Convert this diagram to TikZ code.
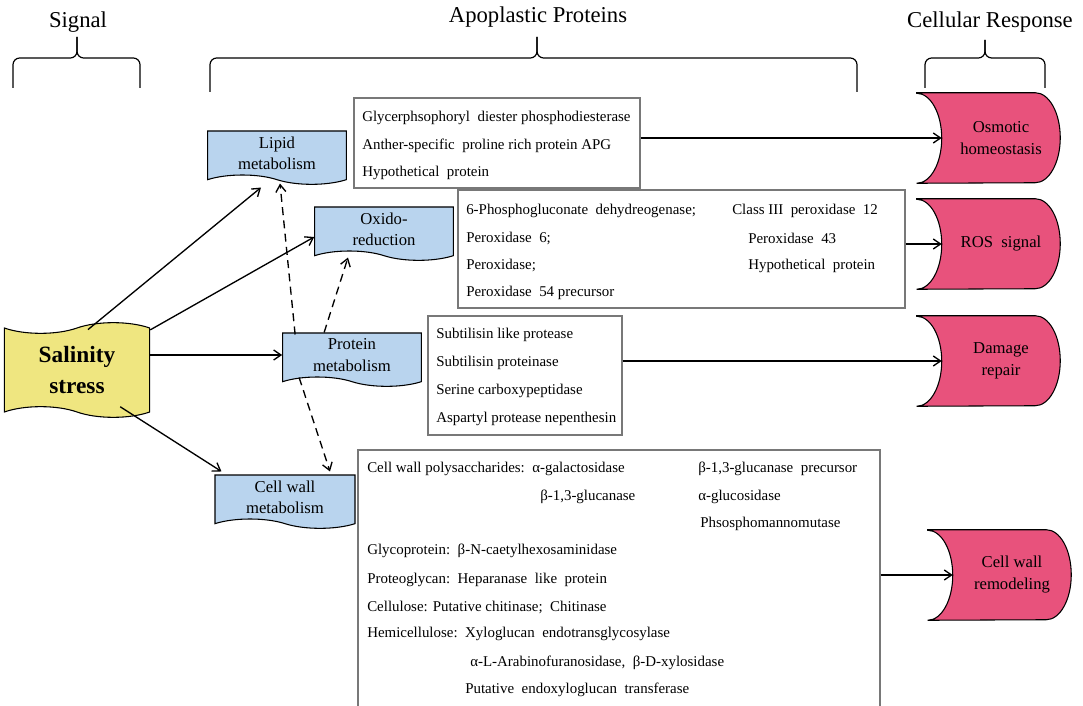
\documentclass[tikz,border=0pt]{standalone}
\usepackage{fontspec}
\setmainfont{Liberation Serif}
\usepackage{tikz}
\usetikzlibrary{arrows.meta,positioning,calc,shapes.symbols,backgrounds}
\definecolor{salyellow}{RGB}{239,230,128}
\definecolor{topicblue}{RGB}{185,212,238}
\definecolor{resppink}{RGB}{232,82,124}
\definecolor{boxgray}{RGB}{120,120,120}
\tikzset{
  flow/.style={-{Straight Barb[length=5.5pt,width=7.5pt]}, line width=1pt},
  linkdash/.style={flow, dash pattern=on 6pt off 4pt},
  bracket/.style={line width=0.9pt, rounded corners=5pt},
  heading/.style={font=\fontsize{17}{19}\selectfont},
  topic/.style={tape, draw, line width=0.8pt, fill=topicblue, tape bend top=none,
    tape bend bottom=out and in, tape bend height=7pt, minimum width=104pt,
    minimum height=40pt, align=center, inner sep=1pt, font=\fontsize{12.5}{16}\selectfont},
  resp/.style={minimum width=88.5pt, minimum height=67.5pt, align=center,
    inner sep=0pt, font=\fontsize{12.5}{16.5}\selectfont},
  respshape/.style={draw, line width=0.8pt, fill=resppink},
  listbox/.style={draw=boxgray, line width=0.8pt, fill=white, inner sep=0pt},
  item/.style={anchor=west, inner sep=0pt, font=\fontsize{11.2}{13}\selectfont},
}
\begin{document}
\begin{tikzpicture}[x=0.75pt,y=-0.75pt]
  \useasboundingbox (0,0) rectangle (1083,706);
  \clip (0,0) rectangle (1083,706);

  % headings and braces
  \node[heading] (hsig) at (78,22) {Signal};
  \node[heading] (hapo) at (538,17) {Apoplastic Proteins};
  \node[heading] (hcel) at (990,22) {Cellular Response};
  \foreach \l/\m/\r/\t/\b in {13/77/140/37/88, 210/537/857/37/92, 925/985/1045/40/88}{
    \draw[bracket] (\l,\b) |- (\m,58) -- (\m,\t);
    \draw[bracket] (\r,\b) |- (\m,58) -- (\m,\t);
  }

  % signal
  \node[tape, draw, line width=0.8pt, fill=salyellow, tape bend top=in and out,
    tape bend bottom=out and in, tape bend height=8pt, minimum width=109pt,
    minimum height=71pt, align=center, font=\bfseries\fontsize{17.5}{23}\selectfont]
    (sal) at (77,370) {Salinity\\stress};

  % metabolism groups
  \node[topic] (lipid) at (277,153) {Lipid\\metabolism};
  \node[topic] (oxido) at (384,229) {Oxido-\\reduction};
  \node[topic] (prot) at (352,355) {Protein\\metabolism};
  \node[topic, minimum width=105pt] (cw) at (285,497) {Cell wall\\metabolism};

  % protein lists
  \node[listbox, minimum width=214.5pt, minimum height=67.5pt] (lipbox) at (497,143) {};
  \foreach \t [count=\i from 0] in {Glycerphsophoryl\ \ diester phosphodiesterase,
      Anther-specific\ \ proline rich protein APG, Hypothetical\ \ protein}
    \node[item] (lipitem\i) at (362,118+27.5*\i) {\t};

  \node[listbox, minimum width=335.25pt, minimum height=88.5pt] (oxbox) at (681.5,249) {};
  \foreach \t [count=\i from 0] in {6-Phosphogluconate\ \ dehydreogenase;, Peroxidase\ \ 6;,
      Peroxidase;, Peroxidase\ \ 54 precursor}
    \node[item] (oxitem\i) at (466,211+27.3*\i) {\t};
  \node[item] (oxitem4) at (732,211) {Class III\ \ peroxidase\ \ 12};
  \node[item] (oxitem5) at (748,238) {Peroxidase\ \ 43};
  \node[item] (oxitem6) at (748,266) {Hypothetical\ \ protein};

  \node[listbox, minimum width=145.5pt, minimum height=89.25pt] (protbox) at (525,375.5) {};
  \foreach \t [count=\i from 0] in {Subtilisin like protease, Subtilisin proteinase,
      Serine carboxypeptidase, Aspartyl protease nepenthesin}
    \node[item] (protitem\i) at (436,335+28*\i) {\t};

  \node[listbox, minimum width=391.5pt, minimum height=202.5pt] (cwbox) at (619,585) {};
  \node[item] (cwitem0) at (367,469) {Cell wall polysaccharides:\ \ α-galactosidase};
  \node[item] (cwitem1) at (698,469) {β-1,3-glucanase\ \ precursor};
  \node[item] (cwitem2) at (540,497) {β-1,3-glucanase};
  \node[item] (cwitem3) at (698,497) {α-glucosidase};
  \node[item] (cwitem4) at (700,524) {Phsosphomannomutase};
  \node[item] (cwitem5) at (367,551) {Glycoprotein:\ \ β-N-caetylhexosaminidase};
  \node[item] (cwitem6) at (367,580) {Proteoglycan:\ \ Heparanase\ \ like\ \ protein};
  \node[item] (cwitem7) at (367,607) {Cellulose: Putative chitinase;\ \ Chitinase};
  \node[item] (cwitem8) at (367,634) {Hemicellulose:\ \ Xyloglucan\ \ endotransglycosylase};
  \node[item] (cwitem9) at (470,663) {α-L-Arabinofuranosidase,\ \ β-D-xylosidase};
  \node[item] (cwitem10) at (465,690) {Putative\ \ endoxyloglucan\ \ transferase};

  % responses
  \node[resp] (osm) at (1001,138) {Osmotic\\homeostasis};
  \node[resp] (ros) at (1001,244) {ROS\ \ signal};
  \node[resp] (dmg) at (1001,361) {Damage\\repair};
  \node[resp] (cwr) at (1012,575) {Cell wall\\remodeling};
  \begin{scope}[on background layer]
    \fill[white] (0,0) rectangle (1083,706);
    \foreach \n in {osm,ros,dmg,cwr}
      \draw[respshape] ([xshift=-18.75pt]\n.north west) -- ([xshift=-18.75pt]\n.north east)
        arc[start angle=90, end angle=-90, x radius=18.75pt, y radius=33.75pt]
        -- ([xshift=-18.75pt]\n.south west)
        arc[start angle=-90, end angle=90, x radius=18.75pt, y radius=33.75pt] -- cycle;
  \end{scope}

  % connectors
  \draw[flow] ($(sal.north)+(11,2)$) -- ($(lipid.south)+(-16,12)$);
  \draw[flow] ($(sal.north east)+(0,2)$) -- ($(oxido.west)+(0,8)$);
  \draw[flow] (sal.east |- prot.west) -- (prot.west);
  \draw[flow] ($(sal.south east)+(-30,-6)$) -- ($(cw.north west)+(7,-3)$);
  \draw[linkdash] ($(prot.north west)+(13,2)$) -- ($(lipid.south)+(3,8)$);
  \draw[linkdash] ($(prot.north west)+(42,0)$) -- ($(oxido.south)+(-36,6)$);
  \draw[linkdash] ($(prot.south west)+(17,0)$) -- ($(cw.north)+(45,-3)$);
  \draw[flow] (lipbox.east |- osm.west) -- (osm.west);
  \draw[flow] (oxbox.east |- ros.west) -- (ros.west);
  \draw[flow] (protbox.east |- dmg.west) -- (dmg.west);
  \draw[flow] (cwbox.east |- cwr.west) -- (cwr.west);
\end{tikzpicture}
\end{document}
